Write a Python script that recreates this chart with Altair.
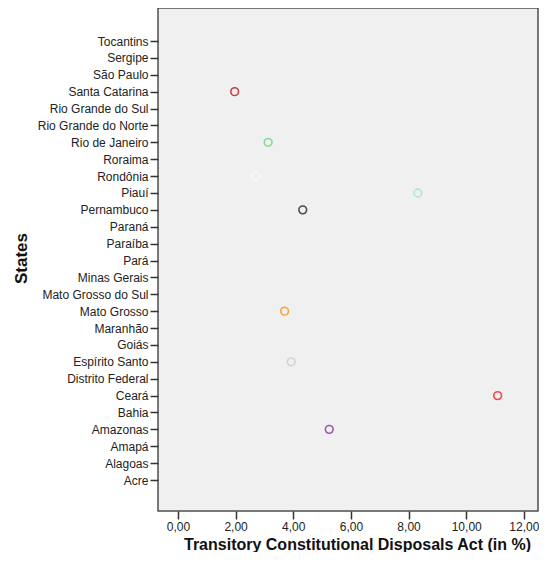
import altair as alt
import pandas as pd

states = [
    "Tocantins", "Sergipe", "São Paulo", "Santa Catarina", "Rio Grande do Sul",
    "Rio Grande do Norte", "Rio de Janeiro", "Roraima", "Rondônia", "Piauí",
    "Pernambuco", "Paraná", "Paraíba", "Pará", "Minas Gerais",
    "Mato Grosso do Sul", "Mato Grosso", "Maranhão", "Goiás", "Espírito Santo",
    "Distrito Federal", "Ceará", "Bahia", "Amazonas", "Amapá", "Alagoas", "Acre",
]

point_states = ["Santa Catarina", "Rio de Janeiro", "Rondônia", "Piauí", "Pernambuco",
                "Mato Grosso", "Espírito Santo", "Ceará", "Amazonas"]
point_values = [1.97, 3.13, 2.70, 8.32, 4.33, 3.70, 3.93, 11.09, 5.25]
point_colors = ["#bf4048", "#7fdc8c", "#f8f8f8", "#aee4e6", "#4a4a4a",
                "#f5a540", "#d2d2d2", "#f24848", "#9a58a8"]

df = pd.DataFrame({"state": point_states, "value": point_values, "color": point_colors})

font = "Liberation Sans"

chart = alt.Chart(df).mark_point(
    shape="circle", filled=False, size=60, strokeWidth=1.6, opacity=1
).encode(
    x=alt.X(
        "value:Q",
        scale=alt.Scale(domain=[-0.69, 12.49], nice=False, zero=False),
        axis=alt.Axis(
            title="Transitory Constitutional Disposals Act (in %)",
            values=[0, 2, 4, 6, 8, 10, 12],
            labelExpr="replace(format(datum.value, '.2f'), '.', ',')",
            grid=False,
            domain=False,
            tickColor="#333333",
            tickSize=8,
            tickWidth=1.5,
            labelFont=font,
            labelFontSize=12,
            labelColor="#222222",
            labelPadding=2,
            titleFont=font,
            titleFontSize=16,
            titleFontWeight="bold",
            titleColor="#111111",
            titleX=199,
            titleY=33,
            titleAlign="center",
            titleBaseline="middle",
        ),
    ),
    y=alt.Y(
        "state:N",
        sort=states,
        scale=alt.Scale(domain=states, type="point", range=[33, 472], padding=0),
        axis=alt.Axis(
            title="States",
            grid=False,
            domain=False,
            tickColor="#333333",
            tickSize=8,
            tickWidth=1.5,
            labelFont=font,
            labelFontSize=12,
            labelColor="#222222",
            labelPadding=2,
            titleFont=font,
            titleFontSize=17,
            titleFontWeight="bold",
            titleColor="#111111",
            titleAngle=270,
            titleX=-137,
            titleY=250,
            titleAlign="center",
            titleBaseline="middle",
        ),
    ),
    stroke=alt.Stroke("color:N", scale=None),
).properties(
    width=380,
    height=503,
    background="white",
    autosize=alt.AutoSizeParams(type="none"),
    padding={"left": 150, "top": 0, "right": 1, "bottom": 41},
).configure_view(
    fill="#f0f0f0",
    stroke="#4d4d4d",
    strokeWidth=1.5,
)

chart.save("out.html", embed_options={"renderer": "svg", "actions": False})
